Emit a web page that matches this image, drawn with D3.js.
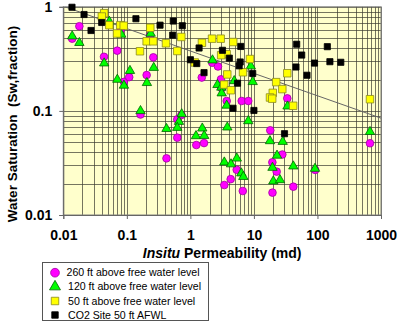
<!DOCTYPE html>
<html>
<head>
<meta charset="utf-8">
<script src="https://cdn.jsdelivr.net/npm/d3@7"></script>
<style>
html,body{margin:0;padding:0;background:#fff;}
svg{display:block;}
</style>
</head>
<body>
<svg id="chart" width="400" height="324"></svg>
<script>
// ---- data (permeability md, water saturation fraction) ----
const seriesNames = ["260 ft above free water level","120 ft above free water level","50 ft above free water level","CO2 Site 50 ft AFWL"];

const ft260 = [
  [0.0179,0.651],[0.0138,0.494],[0.0437,0.331],[0.0705,0.379],[0.080,0.605],[0.233,0.530],
  [0.261,0.327],[0.090,0.190],[0.109,0.211],[0.205,0.221],[0.164,0.0923],[0.622,0.083],
  [0.724,0.0913],[1.51,0.209],[2.21,0.290],[2.72,0.267],[3.03,0.201],[3.11,0.165],
  [3.73,0.1245],[6.42,0.1245],[8.15,0.1245],[33.5,0.132],[0.622,0.0553],[1.24,0.047],
  [1.64,0.0491],[0.421,0.035],[18.1,0.0651],[28.0,0.0381],[19.5,0.0321],[22.8,0.0261],
  [5.36,0.0272],[4.31,0.0221],[3.42,0.0194],[6.68,0.017],[19.6,0.0164],[41.7,0.0187],
  [92.1,0.0271],[671,0.0489]
];

const ft120 = [
  [0.0138,0.522],[0.0179,0.451],[0.044,0.287],[0.053,0.722],[0.0818,0.542],[0.237,0.554],
  [0.112,0.243],[0.0708,0.200],[0.090,0.1754],[0.207,0.186],[0.265,0.260],[0.164,0.100],
  [0.73,0.0933],[0.662,0.0788],[0.622,0.069],[0.421,0.0673],[2.23,0.307],[8.93,0.269],
  [2.67,0.178],[3.07,0.168],[4.9,0.194],[9.57,0.190],[3.11,0.148],[3.73,0.1127],
  [8.15,0.080],[33.8,0.1107],[1.54,0.068],[3.81,0.0696],[1.225,0.0574],[1.65,0.0577],
  [3.42,0.0321],[4.36,0.0308],[5.38,0.035],[6.33,0.0252],[6.81,0.0233],[17.9,0.0514],
  [28.4,0.0506],[23.1,0.0373],[19.6,0.0285],[41.7,0.0294],[91.4,0.0279],[20.2,0.0211],
  [25.7,0.0217],[671,0.063]
];

const ft50 = [
  [0.044,0.868],[0.0404,0.807],[0.053,0.666],[0.0789,0.666],[0.0893,0.658],[0.070,0.554],
  [0.234,0.628],[0.205,0.466],[0.261,0.466],[0.161,0.374],[0.413,0.446],[0.622,0.376],
  [0.720,0.513],[1.52,0.451],[2.19,0.494],[3.0,0.494],[4.73,0.459],[3.73,0.350],
  [3.05,0.343],[8.67,0.315],[6.73,0.235],[3.81,0.224],[3.41,0.179],[4.33,0.158],
  [33.5,0.230],[22.4,0.189],[28.0,0.162],[19.8,0.149],[17.9,0.1345],[19.4,0.131],
  [41.5,0.112],[671,0.1295],[1.17,0.292]
];

const co2Site = [
  [0.0137,0.99],[0.0212,0.843],[0.0273,0.592],[0.0402,0.707],[0.139,0.768],[0.333,0.666],
  [0.538,0.730],[0.746,0.658],[0.527,0.534],[1.0,0.310],[1.26,0.285],[1.37,0.402],
  [3.2,0.382],[4.1,0.321],[1.64,0.233],[6.21,0.416],[6.08,0.295],[5.86,0.271],
  [9.57,0.229],[5.52,0.1845],[4.69,0.106],[10.0,0.101],[47.1,0.437],[56.5,0.344],
  [143,0.414],[89.8,0.288],[157,0.297],[233,0.293],[45.9,0.264],[68.4,0.220],[30.3,0.0604]
];

// trend line end points
const trendK  = [0.0106, 1000];
const trendSw = [1.0, 0.0852];

const xTickVals = [0.01,0.1,1,10,100,1000];
const xTickLabels = ["0.01","0.1","1","10","100","1000"];
const yTickVals = [0.01,0.1,1];
const yTickLabels = ["0.01","0.1","1"];

// ---- drawing ----
const svg = d3.select("#chart");
const FONT = "'Liberation Sans', Arial, Helvetica, sans-serif";
const L = 63.3, R = 381, T = 6.8, B = 215;

const x = d3.scaleLog().domain([0.01,1000]).range([L,R]);
const y = d3.scaleLog().domain([0.01,1]).range([B,T]);

svg.append("rect").attr("x",L).attr("y",T).attr("width",R-L).attr("height",B-T)
  .attr("fill","#ffffcc");

const clip = svg.append("clipPath").attr("id","clipP");
clip.append("rect").attr("x",L).attr("y",T).attr("width",R-L).attr("height",B-T);

// gridlines (every 1..9 per decade)
const grid = svg.append("g").attr("stroke","#3a3a30").attr("stroke-opacity",0.7).attr("stroke-width",1);
grid.selectAll("line.vx").data(x.ticks()).join("line")
  .attr("x1",d=>Math.round(x(d))+0.5).attr("x2",d=>Math.round(x(d))+0.5)
  .attr("y1",T).attr("y2",B);
grid.selectAll("line.hy").data(y.ticks()).join("line")
  .attr("y1",d=>Math.round(y(d))+0.5).attr("y2",d=>Math.round(y(d))+0.5)
  .attr("x1",L).attr("x2",R);

// plot border
svg.append("rect").attr("x",L).attr("y",T).attr("width",R-L).attr("height",B-T)
  .attr("fill","none").attr("stroke","#808080").attr("stroke-width",1);

// axes
const xAxis = d3.axisBottom(x).tickValues(xTickVals).tickSize(4)
  .tickFormat((d,i)=>xTickLabels[i]);
const gx = svg.append("g").attr("transform",`translate(0,${B})`).call(xAxis);
gx.select(".domain").attr("stroke","#666");
gx.selectAll(".tick line").attr("stroke","#666");
gx.selectAll("text").attr("font-family",FONT).attr("font-size",14).attr("font-weight","bold")
  .attr("fill","#000").attr("dy",null).attr("y",25);

const yAxis = d3.axisLeft(y).tickValues(yTickVals).tickSize(4)
  .tickFormat((d,i)=>yTickLabels[i]);
const gy = svg.append("g").attr("transform",`translate(${L},0)`).call(yAxis);
gy.select(".domain").attr("stroke","#666");
gy.selectAll(".tick line").attr("stroke","#666");
gy.selectAll("text").attr("font-family",FONT).attr("font-size",14).attr("font-weight","bold")
  .attr("fill","#000").attr("x",-11).attr("dy","0.35em");

// trend line
svg.append("line").attr("clip-path","url(#clipP)")
  .attr("x1",x(trendK[0])).attr("y1",y(trendSw[0]))
  .attr("x2",x(trendK[1])).attr("y2",y(trendSw[1]))
  .attr("stroke","#666").attr("stroke-width",1);

// markers
const styles = [
  {data:ft260, type:d3.symbolCircle, size:46, fill:"#ff00ff", stroke:"#a000a0"},
  {data:ft120, type:d3.symbolTriangle, size:38, fill:"#00ff00", stroke:"#006600"},
  {data:ft50,  type:d3.symbolSquare, size:56, fill:"#ffff00", stroke:"#8a8a20"},
  {data:co2Site, type:d3.symbolSquare, size:38, fill:"#000000", stroke:"#000"}
];
const pts = svg.append("g");
styles.forEach(s=>{
  const sym = d3.symbol().type(s.type).size(s.size);
  pts.append("g").selectAll("path").data(s.data).join("path")
    .attr("d",sym)
    .attr("transform",d=>`translate(${x(d[0])},${y(d[1])})`)
    .attr("fill",s.fill).attr("stroke",s.stroke).attr("stroke-width",0.8);
});

// axis titles
const xt = svg.append("text").attr("x",(L+R)/2).attr("y",258).attr("text-anchor","middle")
  .attr("font-family",FONT).attr("font-size",14).attr("font-weight","bold").attr("fill","#000");
xt.append("tspan").attr("font-style","italic").text("Insitu");
xt.append("tspan").text(" Permeability (md)");

svg.append("text").attr("transform","translate(17,124) rotate(-90)").attr("text-anchor","middle")
  .attr("font-family",FONT).attr("font-size",13.5).attr("font-weight","bold").attr("fill","#000")
  .attr("xml:space","preserve").style("white-space","pre")
  .text("Water Saturation  (Sw,fraction)");

// legend
const lg = svg.append("g");
lg.append("rect").attr("x",42.5).attr("y",262.5).attr("width",166).attr("height",58)
  .attr("fill","#fff").attr("stroke","#555").attr("stroke-width",1);
const rowY = [272.7, 286.7, 301, 315];
const textX = [66.5, 68, 68, 68];
const legendSizes = [60, 52, 56, 42];
styles.forEach((s,i)=>{
  lg.append("path").attr("d",d3.symbol().type(s.type).size(legendSizes[i])())
    .attr("transform",`translate(55,${rowY[i]})`)
    .attr("fill",s.fill).attr("stroke",s.stroke).attr("stroke-width",0.8);
  lg.append("text").attr("x",textX[i]).attr("y",rowY[i]).attr("dy","0.35em")
    .attr("font-family",FONT).attr("font-size",10.6).attr("fill","#000")
    .text(seriesNames[i]);
});
</script>
</body>
</html>
